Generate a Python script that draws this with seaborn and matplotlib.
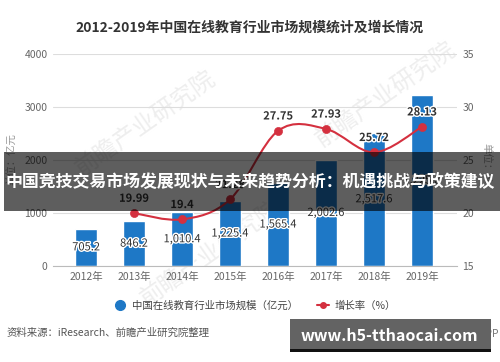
import matplotlib
matplotlib.use("Agg")
import matplotlib.pyplot as plt
import matplotlib.patheffects as pe
from matplotlib.patches import Rectangle, PathPatch
from matplotlib.path import Path
from matplotlib.lines import Line2D
import numpy as np
import pandas as pd
import seaborn as sns

years = ["2012年", "2013年", "2014年", "2015年", "2016年", "2017年", "2018年", "2019年"]
market_size = [705.2, 846.2, 1010.4, 1225.4, 1565.4, 2002.6, 2517.6, 3225.8]
growth_years = ["2013年", "2014年", "2015年", "2016年", "2017年", "2018年", "2019年"]
growth_rate = [19.99, 19.4, 21.28, 27.75, 27.93, 25.72, 28.13]
left_ticks = [0, 1000, 2000, 3000, 4000]
right_ticks = [15, 20, 25, 30, 35]

BLUE = "#1e78c6"
RED = "#d4303f"
GRAY = "#666666"

sns.set_style("white")
plt.rcParams['font.family'] = ['Noto Sans CJK SC', 'DejaVu Sans']

df = pd.DataFrame({"year": years, "size": market_size})
gdf = pd.DataFrame({"year": growth_years, "rate": growth_rate,
                    "pos": [years.index(y) for y in growth_years]})

fig = plt.figure(figsize=(5, 3.62), dpi=100)

# faint background watermarks (behind the axes)
for wx, wy in [(0.29, 0.66), (0.77, 0.74), (0.42, 0.30)]:
    fig.text(wx, wy, "前瞻产业研究院", rotation=35, ha="center", va="center",
             fontsize=17, color="#eeeeee", zorder=-1)

ax = fig.add_axes([0.106, 0.265, 0.808, 0.586])
ax.patch.set_alpha(0)

sns.barplot(data=df, x="year", y="size", color=BLUE, width=0.46, saturation=1, ax=ax)
ax.set_ylim(0, 4000)
ax.set_xlim(-0.69, 7.73)
ax.set_yticks(left_ticks)
ax.yaxis.grid(True, color="#dddddd", linewidth=0.8)
ax.set_axisbelow(True)
ax.set_xlabel("")
ax.set_ylabel("")
for s in ["top", "right", "left"]:
    ax.spines[s].set_visible(False)
ax.spines["bottom"].set_color("#bbbbbb")
ax.tick_params(axis="both", length=0, labelsize=7.5, labelcolor=GRAY, pad=4)

stroke = [pe.withStroke(linewidth=2, foreground="white")]
for i, v in enumerate(market_size):
    ax.text(i, v / 2, f"{v:,.1f}", ha="center", va="center", fontsize=8,
            color="#333333", path_effects=stroke)

ax2 = ax.twinx()
ax2.set_ylim(15, 35)
ax2.set_yticks(right_ticks)
for s in ax2.spines.values():
    s.set_visible(False)
ax2.tick_params(axis="y", length=0, labelsize=7.5, labelcolor=GRAY, pad=4)

# smooth curve through the growth points (Catmull-Rom as bezier segments)
px = gdf["pos"].to_numpy(dtype=float)
py = gdf["rate"].to_numpy(dtype=float)
pts = np.column_stack([px, py])
verts = [pts[0]]
codes = [Path.MOVETO]
for i in range(len(pts) - 1):
    p0 = pts[i - 1] if i > 0 else pts[i]
    p1, p2 = pts[i], pts[i + 1]
    p3 = pts[i + 2] if i + 2 < len(pts) else pts[i + 1]
    verts += [p1 + (p2 - p0) / 6, p2 - (p3 - p1) / 6, p2]
    codes += [Path.CURVE4] * 3
ax2.add_patch(PathPatch(Path(verts, codes), facecolor="none", edgecolor=RED, lw=1.5, zorder=3))
sns.scatterplot(data=gdf, x="pos", y="rate", color=RED, s=34, edgecolor=RED, zorder=4, ax=ax2)
ax2.set_xlabel("")
ax2.set_ylabel("")
for x, y in zip(px, py):
    lab = "19.4" if y == 19.4 else f"{y:.2f}"
    ax2.annotate(lab, (x, y), xytext=(0, 6), textcoords="offset points", ha="center",
                 va="bottom", fontsize=8, color="#333333", fontweight="bold",
                 path_effects=stroke)

fig.text(0.5, 0.923, "2012-2019年中国在线教育行业市场规模统计及增长情况", ha="center",
         va="center", fontsize=10, fontweight="bold", color="#333333")
fig.text(0.024, 0.56, "单位：亿元", rotation=90, ha="center", va="center", fontsize=7.5, color="#999999")
fig.text(0.972, 0.55, "单位：%", rotation=270, ha="center", va="center", fontsize=7.5, color="#999999")

handles = [Line2D([], [], marker="o", color=BLUE, linestyle="none", markersize=7),
           Line2D([], [], marker="o", color=RED, linewidth=1.5, markersize=4)]
fig.legend(handles, ["中国在线教育行业市场规模（亿元）", "增长率（%）"], loc="center",
           bbox_to_anchor=(0.51, 0.155), ncol=2, frameon=False, fontsize=7.5,
           handlelength=1.2, columnspacing=1.8, handletextpad=0.5, labelcolor="#444444")

fig.text(0.014, 0.08, "资料来源：iResearch、前瞻产业研究院整理", ha="left", va="center",
         fontsize=7.5, color="#555555")
fig.text(0.998, 0.08, "@前瞻经济学人APP", ha="right", va="center", fontsize=7.5,
         color="#777777", zorder=1)

# overlay banner
fig.patches.append(Rectangle((0.008, 0.417), 0.992, 0.163, transform=fig.transFigure,
                             facecolor="black", alpha=0.63, edgecolor="none", zorder=10))
fig.text(0.5, 0.497, "中国竞技交易市场发展现状与未来趋势分析：机遇挑战与政策建议", ha="center",
         va="center", fontsize=12.2, fontweight="bold", color="white", zorder=11)

# watermark box
fig.patches.append(Rectangle((0.58, 0.028), 0.402, 0.091, transform=fig.transFigure,
                             facecolor="#636363", edgecolor="none", zorder=5))
fig.patches.append(Rectangle((0.58, 0.028), 0.402, 0.008, transform=fig.transFigure,
                             facecolor="#111111", edgecolor="none", zorder=6))
fig.text(0.778, 0.072, "www.h5-tthaocai.com", ha="center", va="center", fontsize=11.5,
         fontweight="bold", color="white", zorder=7)

fig.savefig("out.png", dpi=100)
